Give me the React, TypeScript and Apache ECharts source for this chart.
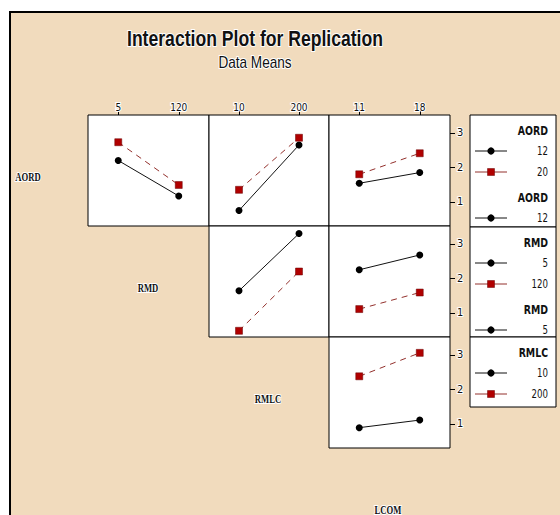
import React, { useEffect, useRef } from "react";
import * as echarts from "echarts";

// ---- data ----
const factors = ["AORD", "RMD", "RMLC", "LCOM"];
const levels = [["12", "20"], ["5", "120"], ["10", "200"], ["11", "18"]];
const yTicks = [1, 2, 3];
const yMin = 0.3;
const yMax = 3.52;

// row AORD (lines: AORD 12 / 20)
const aord12ByRmd = [2.2, 1.17];
const aord20ByRmd = [2.73, 1.49];
const aord12ByRmlc = [0.75, 2.65];
const aord20ByRmlc = [1.35, 2.86];
const aord12ByLcom = [1.54, 1.85];
const aord20ByLcom = [1.8, 2.41];
// row RMD (lines: RMD 5 / 120)
const rmd5ByRmlc = [1.64, 3.3];
const rmd120ByRmlc = [0.48, 2.2];
const rmd5ByLcom = [2.25, 2.68];
const rmd120ByLcom = [1.11, 1.59];
// row RMLC (lines: RMLC 10 / 200)
const rmlc10ByLcom = [0.89, 1.11];
const rmlc200ByLcom = [2.38, 3.06];

const title = "Interaction Plot for Replication";
const subtitle = "Data Means";

const panels = [
  { row: 0, col: 1, low: aord12ByRmd, high: aord20ByRmd },
  { row: 0, col: 2, low: aord12ByRmlc, high: aord20ByRmlc },
  { row: 0, col: 3, low: aord12ByLcom, high: aord20ByLcom },
  { row: 1, col: 2, low: rmd5ByRmlc, high: rmd120ByRmlc },
  { row: 1, col: 3, low: rmd5ByLcom, high: rmd120ByLcom },
  { row: 2, col: 3, low: rmlc10ByLcom, high: rmlc200ByLcom },
];

// ---- layout / style ----
const colLeft = [88, 209, 329];
const colWidth = [121, 120, 121];
const rowTop = [115, 226, 337];
const rowHeight = 111;
const TAN = "#f1dbbd";
const RED = "#b00000";
const RED_LINE = "#93302c";
const SANS = '"Liberation Sans Narrow", "DejaVu Sans Condensed", "Liberation Sans", sans-serif';
const SERIF = '"Liberation Serif", "DejaVu Serif", serif';

function buildOption() {
  const grid: any[] = [];
  const xAxis: any[] = [];
  const yAxis: any[] = [];
  const series: any[] = [];

  panels.forEach((p, i) => {
    grid.push({
      left: colLeft[p.col - 1],
      top: rowTop[p.row],
      width: colWidth[p.col - 1],
      height: rowHeight,
      show: true,
      backgroundColor: "#fff",
      borderColor: "#000",
      borderWidth: 1,
    });
    xAxis.push({
      type: "category",
      gridIndex: i,
      data: levels[p.col],
      boundaryGap: true,
      position: "top",
      show: p.row === 0,
      axisLine: { show: false },
      axisTick: { show: true, alignWithLabel: true, length: 6, lineStyle: { color: "#000" } },
      axisLabel: {
        fontSize: 10,
        fontFamily: SANS,
        color: "#111",
        margin: 3,
        textBorderColor: "#fff",
        textBorderWidth: 2,
      },
      splitLine: { show: false },
    });
    yAxis.push({
      type: "value",
      gridIndex: i,
      min: yMin,
      max: yMax,
      show: p.col === 3,
      position: "right",
      axisLine: { show: false },
      splitLine: { show: false },
      axisTick: { show: true, customValues: yTicks, length: 5, lineStyle: { color: "#000" } },
      axisLabel: {
        customValues: yTicks,
        fontSize: 11,
        fontFamily: SANS,
        color: "#111",
        margin: 7,
        textBorderColor: "#fff",
        textBorderWidth: 2,
      },
    });
    series.push({
      type: "line",
      name: factors[p.row] + " " + levels[p.row][0],
      xAxisIndex: i,
      yAxisIndex: i,
      data: p.low,
      symbol: "circle",
      symbolSize: 7,
      itemStyle: { color: "#000" },
      lineStyle: { color: "#111", width: 1 },
      z: 3,
    });
    series.push({
      type: "line",
      name: factors[p.row] + " " + levels[p.row][1],
      xAxisIndex: i,
      yAxisIndex: i,
      data: p.high,
      symbol: "rect",
      symbolSize: 7,
      itemStyle: { color: RED, borderColor: "#6a0000", borderWidth: 0.5 },
      lineStyle: { color: RED_LINE, width: 1, type: [6, 5] },
      z: 3,
    });
  });

  const graphic: any[] = [];
  // white page margin & black frame
  graphic.push({ type: "rect", shape: { x: 0, y: 0, width: 560, height: 11 }, style: { fill: "#fff" }, z: 50 });
  graphic.push({ type: "rect", shape: { x: 0, y: 0, width: 9, height: 515 }, style: { fill: "#fff" }, z: 50 });
  graphic.push({ type: "rect", shape: { x: 9, y: 11, width: 551, height: 2 }, style: { fill: "#000" }, z: 51 });
  graphic.push({ type: "rect", shape: { x: 9, y: 11, width: 2, height: 504 }, style: { fill: "#000" }, z: 51 });

  // title
  graphic.push({
    type: "text",
    x: 255,
    y: 38,
    scaleX: 0.8,
    z: 20,
    style: {
      text: title,
      font: 'bold 22px "Liberation Sans", sans-serif',
      fill: "#111",
      align: "center",
      verticalAlign: "middle",
      stroke: "#fff",
      lineWidth: 2,
    },
  });
  graphic.push({
    type: "text",
    x: 255,
    y: 63,
    scaleX: 0.85,
    z: 20,
    style: {
      text: subtitle,
      font: '16px "Liberation Sans", sans-serif',
      fill: "#111",
      align: "center",
      verticalAlign: "middle",
      stroke: "#fff",
      lineWidth: 2,
    },
  });

  // diagonal factor names
  factors.forEach((f, i) => {
    graphic.push({
      type: "text",
      x: 28 + 120 * i,
      y: 177 + 111 * i,
      scaleX: 0.72,
      z: 20,
      style: {
        text: f,
        font: "bold 12px " + SERIF,
        fill: "#111",
        align: "center",
        verticalAlign: "middle",
        stroke: "#fff",
        lineWidth: 2,
      },
    });
  });

  // legend boxes
  const boxTop = [115, 227, 337];
  const boxHeight = [112, 110, 70];
  const boxX = 470;
  const boxW = 86;
  const textRight = 548;
  const legendItem = (y: number, kind: number, label: string, z: number) => {
    const items: any[] = [];
    if (kind === 0) {
      items.push({ type: "line", shape: { x1: 475, y1: y, x2: 507, y2: y }, style: { stroke: "#111", lineWidth: 1 }, z });
      items.push({ type: "circle", shape: { cx: 491, cy: y, r: 3.6 }, style: { fill: "#000" }, z });
    } else {
      items.push({ type: "line", shape: { x1: 475, y1: y, x2: 507, y2: y }, style: { stroke: RED_LINE, lineWidth: 1 }, z });
      items.push({ type: "rect", shape: { x: 487.5, y: y - 3.5, width: 7, height: 7 }, style: { fill: RED, stroke: "#6a0000", lineWidth: 0.5 }, z });
    }
    items.push({
      type: "text",
      x: textRight,
      y,
      scaleX: 0.8,
      z,
      style: { text: label, font: "12px " + SANS, fill: "#111", align: "right", verticalAlign: "middle", stroke: "#fff", lineWidth: 2 },
    });
    return items;
  };
  const legendTitle = (y: number, text: string, z: number) => ({
    type: "text",
    x: textRight,
    y,
    scaleX: 0.8,
    z,
    style: { text, font: "bold 13px " + SANS, fill: "#111", align: "right", verticalAlign: "middle", stroke: "#fff", lineWidth: 2 },
  });

  for (let b = 0; b < 3; b++) {
    const t = boxTop[b];
    const zr = 30 + b * 2;
    const zc = zr + 1;
    graphic.push({
      type: "rect",
      shape: { x: boxX, y: t, width: boxW, height: boxHeight[b] },
      style: { fill: "#fff", stroke: "#000", lineWidth: 1 },
      z: zr,
    });
    graphic.push(legendTitle(t + 16, factors[b], zc));
    graphic.push(...legendItem(t + 36, 0, levels[b][0], zc));
    graphic.push(...legendItem(t + 57, 1, levels[b][1], zc));
    if (b < 2) {
      graphic.push(legendTitle(t + 83, factors[b], zc));
      graphic.push(...legendItem(t + 103, 0, levels[b][0], zc));
    }
  }

  return {
    animation: false,
    backgroundColor: TAN,
    grid,
    xAxis,
    yAxis,
    series,
    graphic,
  };
}

export default function App() {
  const ref = useRef<HTMLDivElement>(null);
  useEffect(() => {
    if (!ref.current) return;
    const chart = echarts.init(ref.current, undefined, { renderer: "svg" });
    chart.setOption(buildOption() as any);
    return () => chart.dispose();
  }, []);
  return (
    <div
      ref={ref}
      style={{ position: "absolute", left: 0, top: 0, width: 560, height: 515 }}
    />
  );
}
